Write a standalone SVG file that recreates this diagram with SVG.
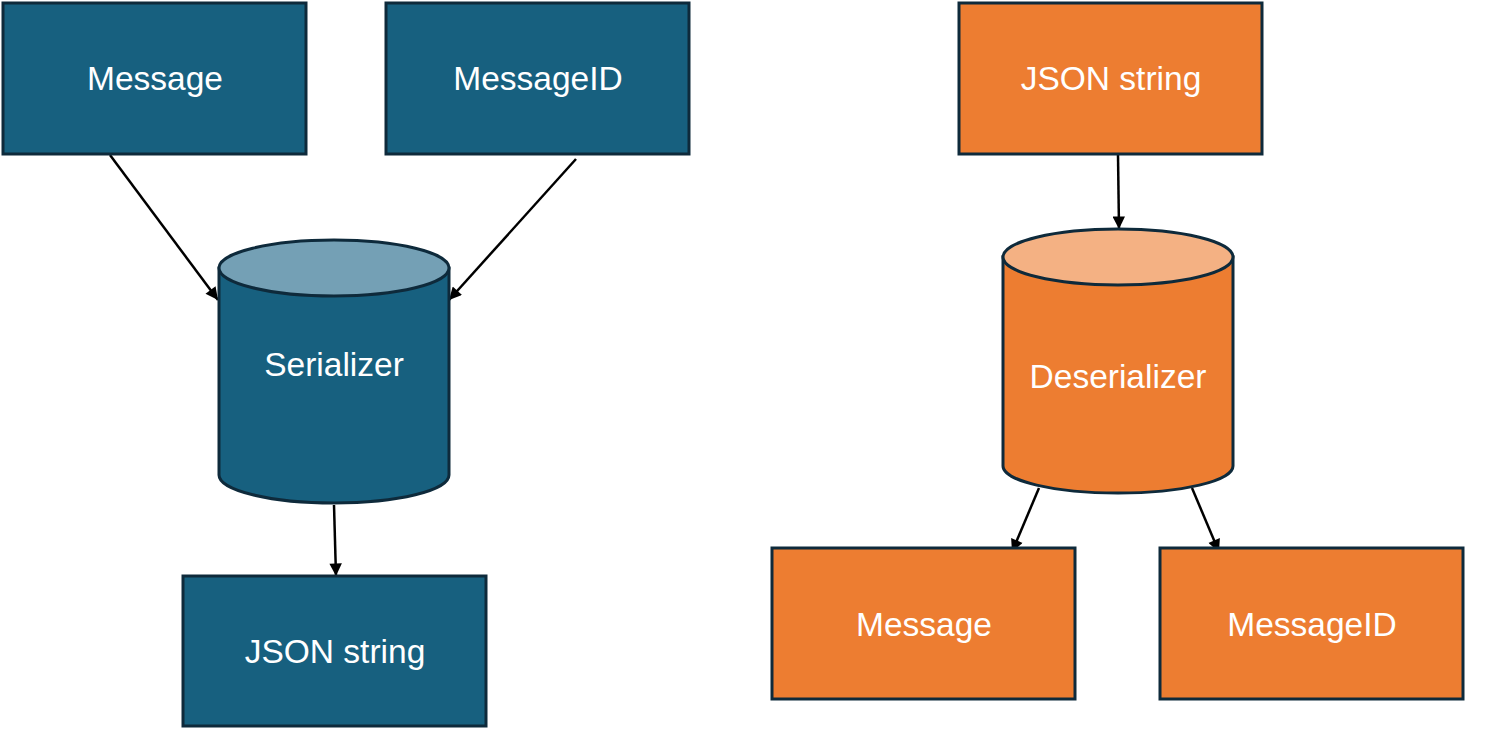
<svg xmlns="http://www.w3.org/2000/svg" width="1490" height="736" viewBox="0 0 1490 736">
<style>
.blue{fill:#17607F;stroke:#0E2A3B;stroke-width:3}
.bluetop{fill:#74A0B5;stroke:#0E2A3B;stroke-width:3}
.orange{fill:#ED7D31;stroke:#0E2A3B;stroke-width:3}
.orangetop{fill:#F4B183;stroke:#0E2A3B;stroke-width:3}
.lbl{font-family:"Liberation Sans",Arial,sans-serif;font-size:33.5px;fill:#FFFFFF;text-anchor:middle}
.conn{stroke:#000;stroke-width:2.5;fill:none;marker-end:url(#arr)}
</style>
<defs>
<marker id="arr" viewBox="0 0 10 10" refX="10" refY="5" markerWidth="5.5" markerHeight="5" orient="auto" markerUnits="strokeWidth">
<path d="M0,0 L10,5 L0,10 z" fill="#000"/>
</marker>
</defs>
<rect width="1490" height="736" fill="#FFFFFF"/>
<g id="connectors">
<line class="conn" x1="110" y1="155" x2="218" y2="300"/>
<line class="conn" x1="576" y1="159" x2="449" y2="300"/>
<line class="conn" x1="334" y1="505" x2="336" y2="576"/>
<line class="conn" x1="1118" y1="155" x2="1119" y2="229"/>
<line class="conn" x1="1039" y1="488" x2="1012" y2="552"/>
<line class="conn" x1="1192" y1="488" x2="1219" y2="552"/>
</g>
<g id="message-left">
<rect class="blue" x="3" y="3" width="303" height="151"/>
<text class="lbl" x="155" y="90">Message</text>
</g>
<g id="messageid-left">
<rect class="blue" x="386" y="3" width="303" height="151"/>
<text class="lbl" x="538" y="90">MessageID</text>
</g>
<g id="serializer">
<path class="blue" d="M219,268 L219,475 A115,28 0 0 0 449,475 L449,268 Z"/>
<ellipse class="bluetop" cx="334" cy="268" rx="115" ry="28"/>
<text class="lbl" x="334" y="376">Serializer</text>
</g>
<g id="json-left">
<rect class="blue" x="183" y="576" width="303" height="150"/>
<text class="lbl" x="335" y="663">JSON string</text>
</g>
<g id="json-right">
<rect class="orange" x="959" y="3" width="303" height="151"/>
<text class="lbl" x="1111" y="90">JSON string</text>
</g>
<g id="deserializer">
<path class="orange" d="M1003,257 L1003,466 A115,27 0 0 0 1233,466 L1233,257 Z"/>
<ellipse class="orangetop" cx="1118" cy="257" rx="115" ry="28"/>
<text class="lbl" x="1118" y="388">Deserializer</text>
</g>
<g id="message-right">
<rect class="orange" x="772" y="548" width="303" height="151"/>
<text class="lbl" x="924" y="636">Message</text>
</g>
<g id="messageid-right">
<rect class="orange" x="1160" y="548" width="303" height="151"/>
<text class="lbl" x="1312" y="636">MessageID</text>
</g>
</svg>
